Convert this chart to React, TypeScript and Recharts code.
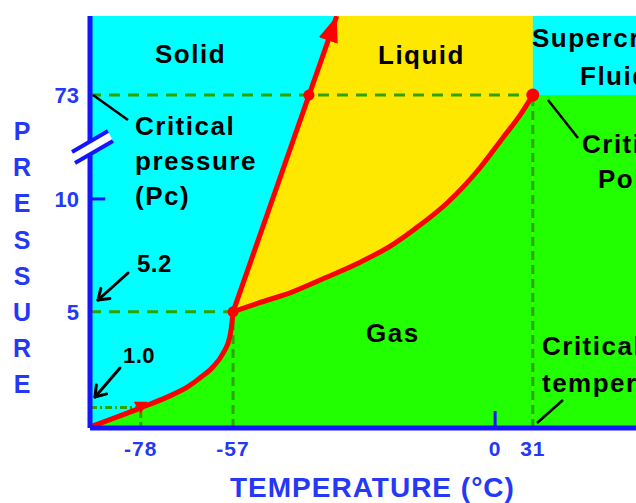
import { ComposedChart, Area, Line, Scatter, XAxis, YAxis, ReferenceLine } from 'recharts';

// CO2 phase diagram. It is drawn "not to scale", so both axes use a
// schematic 0-100 position and the real values only appear as tick labels.
const tempTicks = [9.3, 26.2, 74.2, 81.1];
const tempLabels = ['-78', '-57', '0', '31'];
const pressTicks = [28.2, 55.6, 80.8];
const pressLabels = ['5', '10', '73'];

// solid / gas boundary, from the origin up to the triple point
const sublimation = [
  { t: 0.5, p: 0.5 },
  { t: 9.3, p: 4.9 },
  { t: 14.1, p: 7.5 },
  { t: 17.8, p: 9.9 },
  { t: 20.1, p: 12.1 },
  { t: 22.5, p: 14.8 },
  { t: 24.4, p: 18.2 },
  { t: 25.6, p: 22.1 },
  { t: 26.0, p: 25.5 },
  { t: 26.2, p: 28.2 },
];

// liquid / gas boundary, triple point to critical point
const vaporization = [
  { t: 26.2, p: 28.2 },
  { t: 30.8, p: 30.3 },
  { t: 37.0, p: 33.0 },
  { t: 43.0, p: 36.4 },
  { t: 49.1, p: 40.0 },
  { t: 55.3, p: 44.4 },
  { t: 59.5, p: 48.3 },
  { t: 65.4, p: 54.6 },
  { t: 71.4, p: 63.1 },
  { t: 75.6, p: 70.4 },
  { t: 78.8, p: 76.0 },
  { t: 81.1, p: 80.8 },
];

// solid / liquid boundary (straight, ends in an arrow)
const melting = [
  { t: 26.2, p: 28.2 },
  { t: 45.2, p: 100 },
];

const plotTop = [
  { t: 0, p: 100 },
  { t: 100, p: 100 },
];
const liquidTop = [
  { t: 26.2, p: 28.2 },
  { t: 45.2, p: 100 },
  { t: 81.1, p: 100 },
];
const gasBeyondCritical = [
  { t: 81.1, p: 80.8 },
  { t: 100, p: 80.8 },
];

// -78 / 1.0 atm, triple point, melting line at 73 atm, critical point
const markers = [
  { t: 9.3, p: 4.9 },
  { t: 26.2, p: 28.2 },
  { t: 40.1, p: 80.8 },
  { t: 81.1, p: 80.8 },
];

const FONT = "'Liberation Sans', Arial, Helvetica, sans-serif";
const AXIS_BLUE = '#1414ff';
const LABEL_BLUE = '#2438f5';
const GUIDE_GREEN = '#2ea400';
const RED = '#ff0000';
const CYAN = '#00ffff';
const YELLOW = '#ffe800';
const GREEN = '#22ff00';

function TempTick({ x, y, payload }: any) {
  const label = tempLabels[tempTicks.indexOf(payload.value)];
  return (
    <text x={x} y={y + 20} textAnchor="middle" fill={LABEL_BLUE} fontFamily={FONT} fontWeight="bold" fontSize={21} letterSpacing={1}>
      {label}
    </text>
  );
}

function PressTick({ x, y, payload }: any) {
  const label = pressLabels[pressTicks.indexOf(payload.value)];
  return (
    <text x={x - 3} y={y + 8} textAnchor="end" fill={LABEL_BLUE} fontFamily={FONT} fontWeight="bold" fontSize={22}>
      {label}
    </text>
  );
}

function MarkerShape(props: any) {
  const { cx, cy, index } = props;
  if (index === 0) {
    return <path d={`M${cx - 7},${cy - 6} L${cx + 7},${cy - 6} L${cx},${cy + 6} Z`} fill={RED} />;
  }
  return <circle cx={cx} cy={cy} r={index === 3 ? 6.5 : 5.5} fill={RED} />;
}

function ArrowNote({ from, to }: { from: [number, number]; to: [number, number] }) {
  const ang = Math.atan2(from[1] - to[1], from[0] - to[0]);
  const len = 12;
  const a1 = ang + 0.6;
  const a2 = ang - 0.6;
  const p1 = [to[0] + len * Math.cos(a1), to[1] + len * Math.sin(a1)];
  const p2 = [to[0] + len * Math.cos(a2), to[1] + len * Math.sin(a2)];
  return (
    <g stroke="#000" strokeWidth={3} fill="none" strokeLinecap="round" strokeLinejoin="round">
      <line x1={from[0]} y1={from[1]} x2={to[0]} y2={to[1]} />
      <polyline points={`${p1[0]},${p1[1]} ${to[0]},${to[1]} ${p2[0]},${p2[1]}`} />
    </g>
  );
}

const textStyle = { fontFamily: FONT, fontWeight: 'bold' as const, fontSize: 26, letterSpacing: 1.5 };

export default function App() {
  const guide = { stroke: GUIDE_GREEN, strokeWidth: 3, ifOverflow: 'visible' as const };
  return (
    <div style={{ position: 'absolute', left: 0, top: 0, width: 636, height: 503, background: '#fff', overflow: 'hidden' }}>
      <ComposedChart width={636} height={503} margin={{ top: 16, right: 0, left: 0, bottom: 0 }}>
        <XAxis
          type="number"
          dataKey="t"
          domain={[0, 100]}
          ticks={tempTicks}
          interval={0}
          tick={<TempTick />}
          tickLine={false}
          axisLine={{ stroke: AXIS_BLUE, strokeWidth: 5 }}
          height={75}
          allowDataOverflow
        />
        <YAxis
          type="number"
          domain={[0, 100]}
          ticks={pressTicks}
          interval={0}
          tick={<PressTick />}
          tickLine={false}
          axisLine={{ stroke: AXIS_BLUE, strokeWidth: 5 }}
          width={90}
          allowDataOverflow
        />

        <Area data={plotTop} dataKey="p" type="linear" fill={CYAN} fillOpacity={1} stroke="none" isAnimationActive={false} />
        <Area data={liquidTop} dataKey="p" type="linear" fill={YELLOW} fillOpacity={1} stroke="none" isAnimationActive={false} />
        <Area data={sublimation} dataKey="p" type="monotone" fill={GREEN} fillOpacity={1} stroke="none" isAnimationActive={false} />
        <Area data={vaporization} dataKey="p" type="monotone" fill={GREEN} fillOpacity={1} stroke="none" isAnimationActive={false} />
        <Area data={gasBeyondCritical} dataKey="p" type="linear" fill={GREEN} fillOpacity={1} stroke="none" isAnimationActive={false} />

        {/* guide lines to the axes */}
        <ReferenceLine segment={[{ x: 0, y: pressTicks[2] }, { x: tempTicks[3], y: pressTicks[2] }]} {...guide} strokeDasharray="11 8" />
        <ReferenceLine segment={[{ x: 0, y: pressTicks[0] }, { x: tempTicks[1], y: pressTicks[0] }]} {...guide} strokeDasharray="11 8" />
        <ReferenceLine segment={[{ x: 0, y: 5.0 }, { x: tempTicks[0], y: 5.0 }]} {...guide} strokeDasharray="7 3 2 3" />
        <ReferenceLine segment={[{ x: tempTicks[0], y: 0 }, { x: tempTicks[0], y: 5.0 }]} {...guide} strokeDasharray="6 4" />
        <ReferenceLine segment={[{ x: tempTicks[1], y: 0 }, { x: tempTicks[1], y: pressTicks[0] }]} {...guide} strokeDasharray="9 5" />
        <ReferenceLine segment={[{ x: tempTicks[3], y: 0 }, { x: tempTicks[3], y: pressTicks[2] }]} {...guide} strokeDasharray="9 5" />

        {/* the two plain tick marks */}
        <ReferenceLine segment={[{ x: tempTicks[2], y: 0 }, { x: tempTicks[2], y: 4.1 }]} stroke={AXIS_BLUE} strokeWidth={3} ifOverflow="visible" />
        <ReferenceLine segment={[{ x: 0, y: pressTicks[1] }, { x: 2.8, y: pressTicks[1] }]} stroke={AXIS_BLUE} strokeWidth={3} ifOverflow="visible" />

        <Line data={sublimation} dataKey="p" type="monotone" stroke={RED} strokeWidth={5} dot={false} strokeLinecap="round" isAnimationActive={false} />
        <Line data={vaporization} dataKey="p" type="monotone" stroke={RED} strokeWidth={5} dot={false} strokeLinecap="round" isAnimationActive={false} />
        <Line data={melting} dataKey="p" type="linear" stroke={RED} strokeWidth={5} dot={false} markerEnd="url(#meltArrow)" isAnimationActive={false} />
        <Scatter data={markers} dataKey="p" fill={RED} shape={<MarkerShape />} isAnimationActive={false} />
      </ComposedChart>

      <svg width={636} height={503} style={{ position: 'absolute', left: 0, top: 0, pointerEvents: 'none' }}>
        <defs>
          <marker id="meltArrow" viewBox="0 0 26 20" refX="26" refY="10" markerWidth="26" markerHeight="20" markerUnits="userSpaceOnUse" orient="auto">
            <path d="M0,0 L26,10 L0,20 Z" fill={RED} />
          </marker>
        </defs>

        {/* axis break */}
        <polygon points="72,152 108,131 113,141 75,163" fill="#fff" />
        <line x1={72} y1={152} x2={108} y2={131} stroke={AXIS_BLUE} strokeWidth={4} />
        <line x1={75} y1={163} x2={113} y2={141} stroke={AXIS_BLUE} strokeWidth={4} />

        {/* leader lines */}
        <g stroke="#000" strokeWidth={2.5}>
          <line x1={93} y1={95} x2={128} y2={120} />
          <line x1={548} y1={100} x2={578} y2={138} />
          <line x1={537} y1={423} x2={563} y2={400} />
        </g>
        <ArrowNote from={[128, 273]} to={[98, 300]} />
        <ArrowNote from={[120, 368]} to={[95, 397]} />

        <g fill="#000" style={textStyle}>
          <text x={155} y={63}>Solid</text>
          <text x={378} y={64}>Liquid</text>
          <text x={532} y={47}>Supercritical</text>
          <text x={580} y={85}>Fluid</text>
          <text x={135} y={135}>Critical</text>
          <text x={135} y={170}>pressure</text>
          <text x={135} y={205}>(Pc)</text>
          <text x={582} y={153}>Critical</text>
          <text x={598} y={188}>Point</text>
          <text x={366} y={342}>Gas</text>
          <text x={542} y={355}>Critical</text>
          <text x={542} y={392}>temperature</text>
          <text x={137} y={272} fontSize={24} letterSpacing={0.5}>5.2</text>
          <text x={123} y={363} fontSize={22} letterSpacing={0.5}>1.0</text>
        </g>

        <g fill={LABEL_BLUE} fontFamily={FONT} fontWeight="bold" fontSize={25} textAnchor="middle">
          {'PRESSURE'.split('').map((ch, i) => (
            <text key={i} x={22} y={140 + i * 36.2}>{ch}</text>
          ))}
        </g>
        <text x={230} y={497} fill={LABEL_BLUE} fontFamily={FONT} fontWeight="bold" fontSize={28} letterSpacing={1}>
          TEMPERATURE (°C)
        </text>
      </svg>
    </div>
  );
}
